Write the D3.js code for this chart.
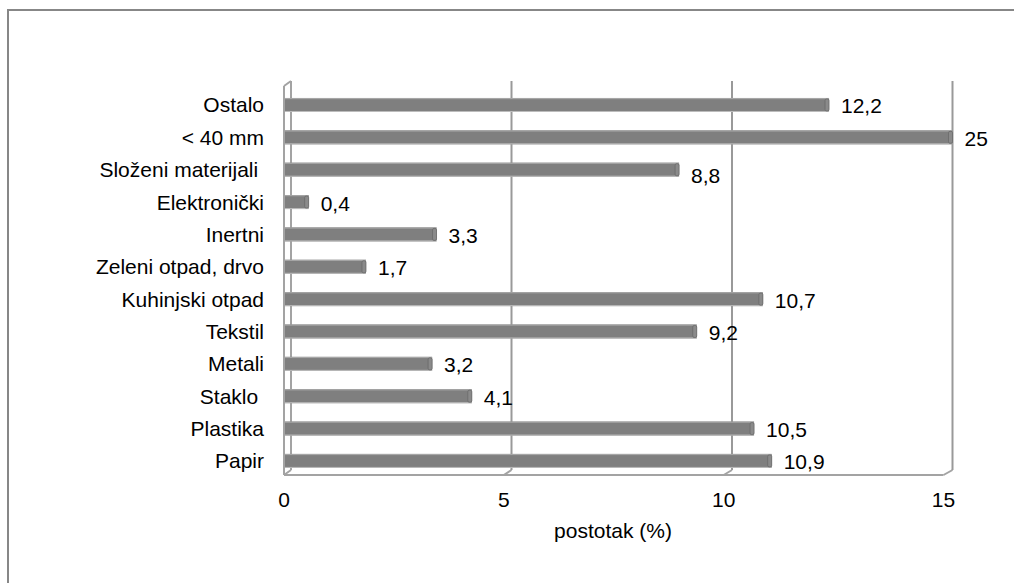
<!DOCTYPE html>
<html>
<head>
<meta charset="utf-8">
<script src="https://cdn.jsdelivr.net/npm/d3@7"></script>
<style>
  html, body { margin: 0; padding: 0; background: #fff; }
  svg { display: block; font-family: "Liberation Sans", Arial, sans-serif; }
  text { white-space: pre; }
</style>
</head>
<body>
<svg id="chart" width="1014" height="583"></svg>
<script>
// Waste composition (share in %), listed bottom to top
const categories = [
  "Papir", "Plastika", "Staklo ", "Metali", "Tekstil", "Kuhinjski otpad",
  "Zeleni otpad, drvo", "Inertni", "Elektronički", "Složeni materijali ",
  "< 40 mm", "Ostalo"
];
const values = [10.9, 10.5, 4.1, 3.2, 9.2, 10.7, 1.7, 3.3, 0.4, 8.8, 25, 12.2];
const valueLabels = ["10,9", "10,5", "4,1", "3,2", "9,2", "10,7", "1,7", "3,3", "0,4", "8,8", "25", "12,2"];
const xTicks = [0, 5, 10, 15];
const xTitle = "postotak (%)";

const svg = d3.select("#chart");
const gridColor = "#999999";
const wallColor = "#a3a3a3";

// Frame around the chart area
svg.append("rect")
  .attr("x", 8).attr("y", 10).attr("width", 1100).attr("height", 700)
  .attr("fill", "none").attr("stroke", "#878787").attr("stroke-width", 2);

// Back plane scale (gridlines, bar ends) and front plane scale (floor, tick labels)
const xBack = d3.scaleLinear().domain([0, 15]).range([291, 952.5]);
const xFront = d3.scaleLinear().domain([0, 15]).range([284, 943.5]);
const yBackTop = 81, yBackBottom = 470, yFrontTop = 86, yFrontBottom = 475;

const y = d3.scalePoint().domain(categories).range([477.1, 88.8]).padding(0.5);
const barH = 14;

// Back wall gridlines
svg.append("g").selectAll("line").data(xTicks.slice(1)).join("line")
  .attr("x1", d => xBack(d)).attr("x2", d => xBack(d))
  .attr("y1", yBackTop).attr("y2", yBackBottom)
  .attr("stroke", gridColor).attr("stroke-width", 2);

// Floor: front edge and depth lines at each tick
svg.append("line")
  .attr("x1", xFront(0)).attr("x2", xFront(15))
  .attr("y1", yFrontBottom).attr("y2", yFrontBottom)
  .attr("stroke", wallColor).attr("stroke-width", 2);
svg.append("g").selectAll("line").data(xTicks).join("line")
  .attr("x1", d => xFront(d)).attr("x2", d => xBack(d))
  .attr("y1", yFrontBottom).attr("y2", yBackBottom)
  .attr("stroke", wallColor).attr("stroke-width", 2);

// Left side wall
const wall = svg.append("g").attr("stroke", wallColor).attr("stroke-width", 2).attr("fill", "none");
wall.append("line").attr("x1", xFront(0)).attr("x2", xFront(0)).attr("y1", yFrontTop).attr("y2", yFrontBottom);
wall.append("line").attr("x1", xBack(0)).attr("x2", xBack(0)).attr("y1", yBackTop).attr("y2", yBackBottom);
wall.append("line").attr("x1", xFront(0)).attr("x2", xBack(0)).attr("y1", yFrontTop).attr("y2", yBackTop);

// Bars (clipped at the axis maximum)
const maxV = xBack.domain()[1];
const barEnd = i => xBack(Math.min(values[i], maxV));
const bars = svg.append("g").selectAll("g").data(categories).join("g");
bars.append("rect")
  .attr("x", xFront(0) + 1)
  .attr("y", d => y(d) - barH / 2)
  .attr("width", (d, i) => barEnd(i) - xFront(0) - 1)
  .attr("height", barH)
  .attr("fill", "#7f7f7f");
bars.append("rect")
  .attr("x", xFront(0) + 1)
  .attr("y", d => y(d) - barH / 2)
  .attr("width", (d, i) => barEnd(i) - xFront(0) - 1)
  .attr("height", 1.2)
  .attr("fill", "#a6a6a6");
bars.append("rect")
  .attr("x", xFront(0) + 1)
  .attr("y", d => y(d) + barH / 2 - 1)
  .attr("width", (d, i) => barEnd(i) - xFront(0) - 1)
  .attr("height", 1)
  .attr("fill", "#bdbdbd");
// End caps
bars.append("rect")
  .attr("x", (d, i) => barEnd(i) - 4)
  .attr("y", d => y(d) - barH / 2 + 1)
  .attr("width", 4)
  .attr("height", barH - 2)
  .attr("rx", 1.5)
  .attr("fill", "#8a8a8a")
  .attr("stroke", "#6a6a6a").attr("stroke-width", 0.8);

// Value labels (the "8,8" label sits a little below its bar)
svg.append("g").selectAll("text").data(categories).join("text")
  .attr("x", (d, i) => barEnd(i) + 12)
  .attr("y", (d, i) => y(d) + 8.5 + (valueLabels[i] === "8,8" ? 5 : 0))
  .attr("font-size", 21)
  .attr("fill", "#000")
  .text((d, i) => valueLabels[i]);

// Category labels
svg.append("g").selectAll("text").data(categories).join("text")
  .attr("x", 264)
  .attr("y", d => y(d) + 7.5)
  .attr("text-anchor", "end")
  .attr("font-size", 21)
  .attr("fill", "#000")
  .text(d => d);

// X tick labels
svg.append("g").selectAll("text").data(xTicks).join("text")
  .attr("x", d => xFront(d))
  .attr("y", 507)
  .attr("text-anchor", "middle")
  .attr("font-size", 21)
  .attr("fill", "#000")
  .text(d => d);

// X axis title
svg.append("text")
  .attr("x", 613).attr("y", 538)
  .attr("text-anchor", "middle")
  .attr("font-size", 21)
  .attr("fill", "#000")
  .text(xTitle);
</script>
</body>
</html>
